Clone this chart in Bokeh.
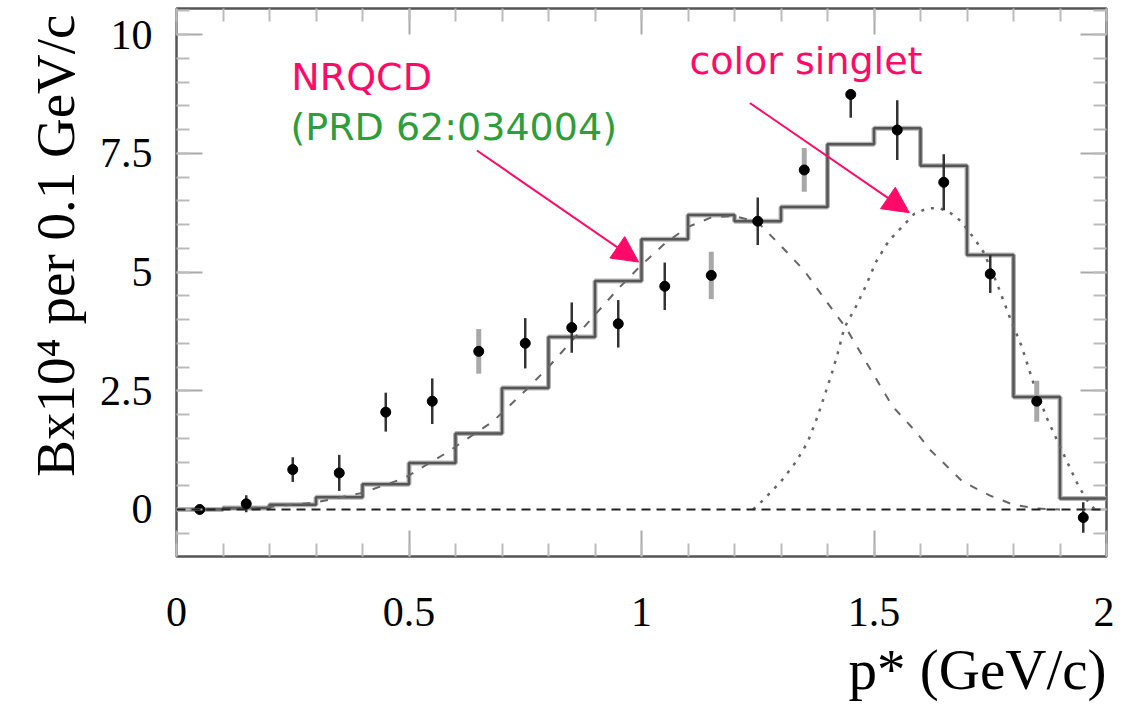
from bokeh.plotting import figure
from bokeh.models import (ColumnDataSource, FixedTicker, LinearAxis, Range1d,
                          Arrow, NormalHead, Label, Title, Span)
from bokeh.embed import file_html
from bokeh.resources import INLINE

# ---------------- data ----------------
bin_edges = [0.0, 0.1, 0.2, 0.3, 0.4, 0.5, 0.6, 0.7, 0.8, 0.9, 1.0,
             1.1, 1.2, 1.3, 1.4, 1.5, 1.6, 1.7, 1.8, 1.9, 2.0]
hist_heights = [0.0, 0.03, 0.10, 0.26, 0.53, 0.98, 1.60, 2.56, 3.63, 4.81,
                5.69, 6.20, 6.07, 6.37, 7.69, 8.03, 7.24, 5.36, 2.37, 0.23]

pt_x = [0.05, 0.15, 0.25, 0.35, 0.45, 0.55, 0.65, 0.75, 0.85, 0.95,
        1.05, 1.15, 1.25, 1.35, 1.45, 1.55, 1.65, 1.75, 1.85, 1.95]
pt_y = [0.0, 0.12, 0.84, 0.77, 2.05, 2.28, 3.33, 3.50, 3.83, 3.91,
        4.70, 4.93, 6.07, 7.15, 8.74, 7.99, 6.89, 4.96, 2.28, -0.17]
err_lo = [0.05, 0.18, 0.26, 0.38, 0.41, 0.48, 0.47, 0.53, 0.53, 0.50,
          0.50, 0.50, 0.50, 0.46, 0.49, 0.63, 0.59, 0.40, 0.43, 0.32]
err_hi = [0.05, 0.18, 0.26, 0.38, 0.41, 0.48, 0.47, 0.53, 0.53, 0.50,
          0.50, 0.50, 0.50, 0.46, 0.03, 0.63, 0.59, 0.40, 0.43, 0.32]
grey_bar_points = [6, 11, 13, 18]   # error bars drawn in light grey

nrqcd_x = [0.0, 0.1, 0.2, 0.3, 0.4, 0.49, 0.58, 0.68, 0.75, 0.80, 0.85, 0.90,
           0.95, 1.00, 1.05, 1.10, 1.15, 1.20, 1.25, 1.30, 1.35, 1.40, 1.44,
           1.49, 1.54, 1.59, 1.62, 1.66, 1.69, 1.75, 1.80, 1.85, 1.90]
nrqcd_y = [0.0, 0.01, 0.05, 0.15, 0.35, 0.66, 1.19, 1.85, 2.50, 3.00, 3.55, 4.10,
           4.65, 5.15, 5.60, 5.95, 6.15, 6.18, 6.05, 5.55, 5.03, 4.35, 3.82,
           2.99, 2.17, 1.64, 1.26, 0.88, 0.59, 0.29, 0.10, 0.02, 0.0]

singlet_x = [1.24, 1.263, 1.30, 1.332, 1.357, 1.378, 1.396, 1.411, 1.422, 1.436,
             1.461, 1.483, 1.504, 1.532, 1.565, 1.587, 1.615, 1.64, 1.665, 1.687,
             1.716, 1.737, 1.766, 1.795, 1.817, 1.842, 1.871, 1.896, 1.917, 1.939,
             1.957, 1.975]
singlet_y = [0.0, 0.21, 0.59, 1.00, 1.41, 1.94, 2.47, 2.92, 3.29, 3.82,
             4.27, 4.72, 5.21, 5.66, 6.00, 6.23, 6.34, 6.35, 6.24, 6.07,
             5.70, 5.40, 4.72, 3.97, 3.45, 2.69, 1.94, 1.41, 0.97, 0.51,
             0.21, 0.0]

x_ticks = [0, 0.5, 1, 1.5, 2]
x_tick_labels = ["0", "0.5", "1", "1.5", "2"]
y_ticks = [0, 2.5, 5, 7.5, 10]
y_tick_labels = ["0", "2.5", "5", "7.5", "10"]

# ---------------- styling ----------------
PINK = "#ff0a68"
GREEN = "#2d9e3a"
SERIF = "Liberation Serif"
SANS = "DejaVu Sans"

p = figure(frame_width=930, frame_height=548,
           x_range=Range1d(0, 2.0), y_range=Range1d(-0.99, 10.55),
           output_backend="svg", toolbar_location=None,
           min_border_left=176, min_border_right=8, min_border_top=8,
           min_border_bottom=0, background_fill_color="white")
p.grid.visible = False
p.outline_line_color = "#555555"
p.outline_line_width = 2.5

x_minor = [round(0.1 * i, 2) for i in range(0, 21)]
y_minor = [round(-1.0 + 0.5 * i, 2) for i in range(0, 24)]


def style_axis(ax, ticks, minor, labels, show_labels):
    ax.ticker = FixedTicker(ticks=ticks, minor_ticks=minor)
    ax.axis_line_color = None
    ax.major_tick_in = 26
    ax.major_tick_out = 0
    ax.minor_tick_in = 13
    ax.minor_tick_out = 0
    ax.major_tick_line_color = "#aaaaaa"
    ax.major_tick_line_width = 2
    ax.minor_tick_line_color = "#bbbbbb"
    ax.minor_tick_line_width = 2
    if show_labels:
        ax.major_label_overrides = {t: l for t, l in zip(ticks, labels)}
        ax.major_label_text_font = SERIF
        ax.major_label_text_font_size = "42px"
        ax.major_label_text_color = "black"
    else:
        ax.major_label_text_font_size = "0px"
        ax.major_label_text_alpha = 0


xa = p.xaxis[0]
style_axis(xa, x_ticks, x_minor, x_tick_labels, True)
xa.major_label_standoff = 41
ya = p.yaxis[0]
style_axis(ya, y_ticks, y_minor, y_tick_labels, True)
ya.major_label_standoff = 24

top = LinearAxis()
style_axis(top, x_ticks, x_minor, x_tick_labels, False)
p.add_layout(top, "above")
right = LinearAxis()
style_axis(right, y_ticks, y_minor, y_tick_labels, False)
p.add_layout(right, "right")

yt = Title(text="Bx10\u2074 per 0.1 GeV/c", align="right", text_font=SERIF,
           text_font_size="55px", text_font_style="normal", text_color="black",
           standoff=21, offset=6)
p.add_layout(yt, "left")

xt = Title(text="p* (GeV/c)", align="right", text_font=SERIF,
           text_font_size="57px", text_font_style="normal", text_color="black",
           standoff=14)
p.add_layout(xt, "below")

# zero line
p.add_layout(Span(location=0, dimension="width", line_color="#222222",
                  line_width=2, line_dash="9 6"))

# histogram
hx = bin_edges
hy = hist_heights + [hist_heights[-1]]
p.step(hx, hy, mode="after", line_color="#b5b5b5", line_width=5)
p.step(hx, hy, mode="after", line_color="#555555", line_width=2.5)

# fit curves
p.line(nrqcd_x, nrqcd_y, line_color="#666666", line_width=2, line_dash="8 10")
p.line(singlet_x, singlet_y, line_color="#666666", line_width=2.5, line_dash="3 7")

# data points with error bars
y0 = [y - e for y, e in zip(pt_y, err_lo)]
y1 = [y + e for y, e in zip(pt_y, err_hi)]
grey_src = ColumnDataSource(dict(
    x=[pt_x[i] for i in grey_bar_points],
    y0=[y0[i] for i in grey_bar_points],
    y1=[y1[i] for i in grey_bar_points]))
dark_idx = [i for i in range(len(pt_x)) if i not in grey_bar_points]
dark_src = ColumnDataSource(dict(
    x=[pt_x[i] for i in dark_idx],
    y0=[y0[i] for i in dark_idx],
    y1=[y1[i] for i in dark_idx]))
p.segment(x0="x", y0="y0", x1="x", y1="y1", source=grey_src,
          line_color="#a8a8a8", line_width=5)
p.segment(x0="x", y0="y0", x1="x", y1="y1", source=dark_src,
          line_color="#333333", line_width=2.5)
p.scatter(pt_x, pt_y, size=10, fill_color="black", line_color="black")

# annotations
p.add_layout(Label(x=0.247, y=9.11, text="NRQCD", text_font=SANS,
                   text_font_size="38px", text_color=PINK,
                   text_baseline="alphabetic"))
p.add_layout(Label(x=0.245, y=8.06, text="(PRD 62:034004)", text_font=SANS,
                   text_font_size="38px", text_color=GREEN,
                   text_baseline="alphabetic"))
p.add_layout(Label(x=1.103, y=9.45, text="color singlet", text_font=SANS,
                   text_font_size="38px", text_color=PINK,
                   text_baseline="alphabetic"))

p.add_layout(Arrow(x_start=0.646, y_start=7.56, x_end=0.994, y_end=5.21,
                   line_color=PINK, line_width=2,
                   end=NormalHead(size=26, fill_color=PINK, line_color=PINK)))
p.add_layout(Arrow(x_start=1.233, y_start=8.56, x_end=1.576, y_end=6.25,
                   line_color=PINK, line_width=2,
                   end=NormalHead(size=26, fill_color=PINK, line_color=PINK)))

open("out.html", "w").write(file_html(p, INLINE))
